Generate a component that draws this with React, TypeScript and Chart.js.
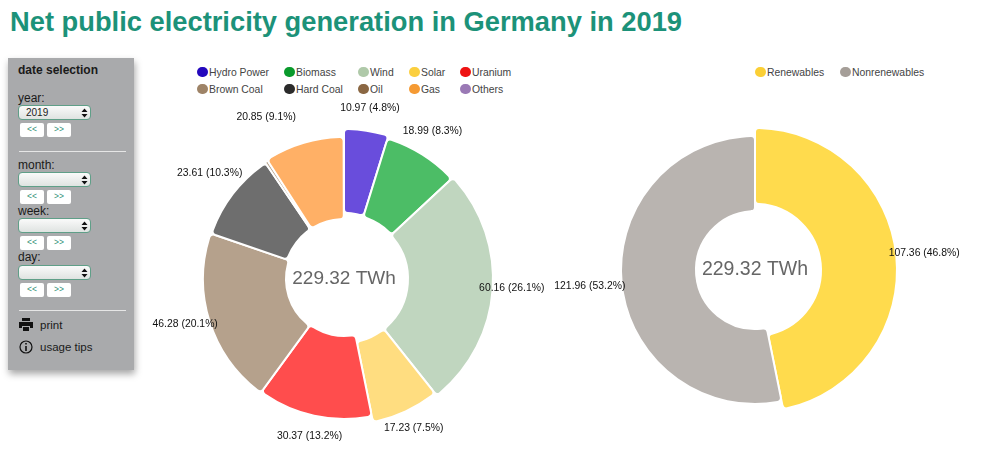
import React, { useEffect, useRef } from "react";
import { Chart, registerables } from "chart.js";

Chart.register(...registerables);

const energyLabels = ["Hydro Power", "Biomass", "Wind", "Solar", "Uranium", "Brown Coal", "Hard Coal", "Oil", "Gas", "Others"];
const energyValues = [10.97, 18.99, 60.16, 17.23, 30.37, 46.28, 23.61, 0.8, 20.85, 0.06];
const energyShares = [4.8, 8.3, 26.1, 7.5, 13.2, 20.1, 10.3, 0.3, 9.1, 0];
const energyLegendColors = ["#2408bd", "#0a9a2c", "#afc9a9", "#fbcf3f", "#ee1212", "#9e8367", "#2b2b2b", "#8a6743", "#f59a33", "#9a79b5"];
const energyColors = ["#694ddc", "#4cbd66", "#c0d6bf", "#ffdd80", "#ff4d4d", "#b5a18c", "#6e6e6e", "#b8a48e", "#ffb066", "#bda6d0"];
const energyOuter = [150, 147, 149, 146, 140, 141, 140, 141, 142, 142];
const energyInner = [66, 65, 64, 64, 57, 58, 60, 60, 60, 60];

const shareLabels = ["Renewables", "Nonrenewables"];
const shareValues = [107.36, 121.96];
const shareShares = [46.8, 53.2];
const shareLegendColors = ["#fbcf35", "#a59e98"];
const shareColors = ["#ffdb4d", "#b9b4b0"];
const shareOuter = [142, 134];
const shareInner = [66, 59];

const totalLabel = "229.32 TWh";
const FONT = "'Liberation Sans', Arial, sans-serif";

const doughnutText = {
  id: "doughnutText",
  afterDatasetUpdate(chart: any, _a: any, opts: any) {
    chart.getDatasetMeta(0).data.forEach((arc: any, i: number) => {
      arc.outerRadius = opts.outer[i];
      arc.innerRadius = opts.inner[i];
    });
  },
  afterDatasetsDraw(chart: any, _a: any, opts: any) {
    const { ctx } = chart;
    const meta = chart.getDatasetMeta(0);
    const values = chart.data.datasets[0].data as number[];
    ctx.save();
    ctx.textAlign = "center";
    ctx.textBaseline = "middle";
    ctx.fillStyle = "#111";
    ctx.font = `10.4px ${FONT}`;
    meta.data.forEach((arc: any, i: number) => {
      const v = values[i];
      if (v < 2) return;
      const mid = (arc.startAngle + arc.endAngle) / 2 + (opts.angleNudge?.[i] ?? 0);
      const r = opts.labelRadius[i];
      ctx.fillText(`${v.toFixed(2)} (${opts.shares[i].toFixed(1)}%)`, arc.x + Math.cos(mid) * r, arc.y + Math.sin(mid) * r);
    });
    const c = meta.data[0];
    ctx.fillStyle = "#666";
    ctx.font = `${opts.totalSize}px ${FONT}`;
    ctx.fillText(totalLabel, c.x, c.y);
    ctx.restore();
  },
};

function Donut({ style, labels, values, shares, colors, outer, inner, labelRadius, angleNudge, totalSize }: any) {
  const ref = useRef<HTMLCanvasElement>(null);
  useEffect(() => {
    const chart = new Chart(ref.current!, {
      type: "doughnut",
      data: {
        labels,
        datasets: [{ data: values, backgroundColor: colors, borderColor: "#fff", borderWidth: 2, borderRadius: 4 }],
      },
      options: {
        animation: false,
        responsive: false,
        rotation: 0,
        layout: { padding: 0 },
        plugins: { legend: { display: false }, tooltip: { enabled: false }, doughnutText: { outer, inner, shares, labelRadius, angleNudge, totalSize } } as any,
      },
      plugins: [doughnutText],
    });
    return () => chart.destroy();
  }, []);
  return <canvas ref={ref} width={style.width} height={style.height} style={{ position: "absolute", ...style }} />;
}

function Legend({ labels, colors, xs, ys }: any) {
  return (
    <>
      {labels.map((t: string, i: number) => (
        <div key={t} style={{ position: "absolute", left: xs[i], top: ys[i], height: 14, display: "flex", alignItems: "center", font: `10.4px ${FONT}`, color: "#444", whiteSpace: "nowrap" }}>
          <span style={{ width: 10.5, height: 10.5, borderRadius: "50%", background: colors[i], marginRight: 1.5, display: "inline-block" }} />
          {t}
        </div>
      ))}
    </>
  );
}

const arrows = "data:image/svg+xml;utf8," + encodeURIComponent('<svg xmlns="http://www.w3.org/2000/svg" width="7" height="10"><path d="M3.5 0.5 6.5 4H0.5ZM3.5 9.5 0.5 6H6.5Z" fill="#111"/></svg>');

function Sel({ top, value }: { top: number; value?: string }) {
  return (
    <select
      defaultValue={value ?? ""}
      style={{
        position: "absolute", left: 18, top, width: 73, height: 15, boxSizing: "border-box", appearance: "none", padding: "0 0 0 7px", margin: 0,
        border: "1px solid #5f9f88", borderRadius: 4, font: `10px ${FONT}`, color: "#222",
        background: `url("${arrows}") no-repeat 62px center, linear-gradient(#fafafa, #dfe3e1)`,
      }}
    >
      <option value={value ?? ""}>{value ?? ""}</option>
    </select>
  );
}

function Btns({ top }: { top: number }) {
  const s: React.CSSProperties = { position: "absolute", top, width: 24, height: 13.5, background: "#fff", borderRadius: 2, font: `8.5px ${FONT}`, color: "#2f8f76", textAlign: "center", lineHeight: "13.5px" };
  return (
    <>
      <div style={{ ...s, left: 20 }}>{"<<"}</div>
      <div style={{ ...s, left: 47 }}>{">>"}</div>
    </>
  );
}

function PanelText({ top, left = 18, children, bold, size = 12 }: any) {
  return <div style={{ position: "absolute", left, top, font: `${bold ? "bold " : ""}${size}px ${FONT}`, color: "#1a1a1a", lineHeight: "14px", whiteSpace: "nowrap" }}>{children}</div>;
}

const Rule = ({ top }: { top: number }) => <div style={{ position: "absolute", left: 19, top, width: 107, height: 1, background: "#e6e6e6" }} />;

export default function App() {
  return (
    <div style={{ position: "absolute", left: 0, top: 0, width: 1000, height: 455, background: "#fff", overflow: "hidden" }}>
      <div style={{ position: "absolute", left: 10, top: 5, font: `bold 27.3px ${FONT}`, color: "#1c9279", whiteSpace: "nowrap", lineHeight: "34px" }}>
        Net public electricity generation in Germany in 2019
      </div>

      <div style={{ position: "absolute", left: 8, top: 58, width: 126, height: 312, background: "#a9aaac", boxShadow: "1px 4px 7px rgba(0,0,0,0.35)" }} />
      <PanelText top={63} bold size={12}>date selection</PanelText>
      <PanelText top={91} size={12}>year:</PanelText>
      <Sel top={105} value="2019" />
      <Btns top={123} />
      <Rule top={151} />
      <PanelText top={158} size={12}>month:</PanelText>
      <Sel top={172} />
      <Btns top={190} />
      <PanelText top={204} size={12}>week:</PanelText>
      <Sel top={218} />
      <Btns top={236} />
      <PanelText top={250} size={12}>day:</PanelText>
      <Sel top={265} />
      <Btns top={283} />
      <Rule top={310} />
      <svg style={{ position: "absolute", left: 19, top: 318 }} width="14" height="13" viewBox="0 0 14 13">
        <path d="M3 0h8v3H3zM0 4h14v6h-3V8H3v2H0zM4 9h6v4H4z" fill="#111" />
      </svg>
      <PanelText top={318} left={40} size={11.5}>print</PanelText>
      <svg style={{ position: "absolute", left: 19, top: 340 }} width="14" height="14" viewBox="0 0 14 14">
        <circle cx="7" cy="7" r="6" fill="none" stroke="#111" strokeWidth="1.2" />
        <path d="M6.2 3h1.6v1.6H6.2zM6.2 6h1.6v5H6.2z" fill="#111" />
      </svg>
      <PanelText top={340} left={40} size={11.5}>usage tips</PanelText>

      <Legend
        labels={energyLabels}
        colors={energyLegendColors}
        xs={[197, 284, 358, 409, 460, 197, 284, 358, 409, 460]}
        ys={[65, 65, 65, 65, 65, 82, 82, 82, 82, 82]}
      />
      <Legend labels={shareLabels} colors={shareLegendColors} xs={[755, 840]} ys={[65, 65]} />

      <Donut
        style={{ left: 144, top: 99, width: 400, height: 360 }}
        labels={energyLabels}
        values={energyValues}
        shares={energyShares}
        colors={energyColors}
        outer={energyOuter}
        inner={energyInner}
        labelRadius={[173, 172, 168, 165, 161, 165, 171, 0, 180, 0]}
        angleNudge={[0, -0.02, -0.02, 0, 0, 0.03, 0.015, 0, -0.16, 0]}
        totalSize={19}
      />
      <Donut
        style={{ left: 510, top: 90, width: 490, height: 360 }}
        labels={shareLabels}
        values={shareValues}
        shares={shareShares}
        colors={shareColors}
        outer={shareOuter}
        inner={shareInner}
        labelRadius={[170, 166]}
        totalSize={19.5}
      />
    </div>
  );
}
